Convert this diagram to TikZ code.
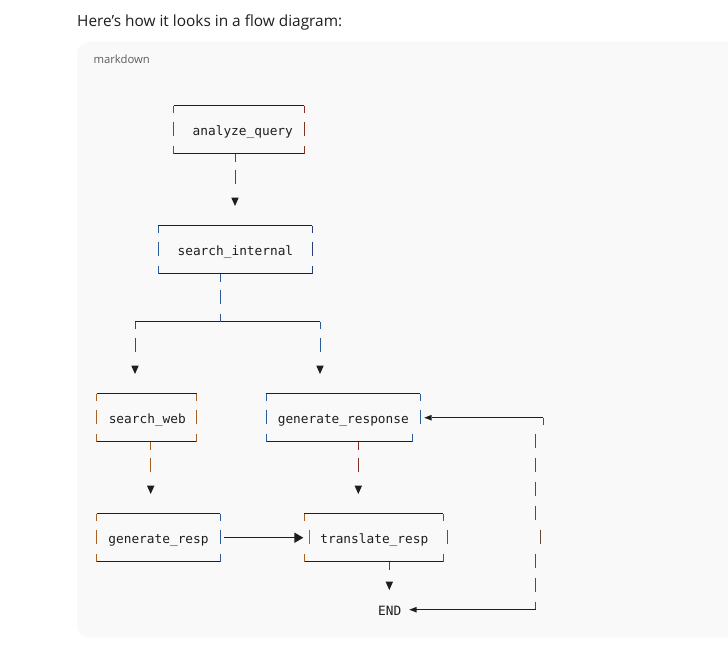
\documentclass[tikz,border=0pt]{standalone}
\usepackage{fontspec}
\setmainfont{Open Sans}
\newfontfamily\monof{DejaVu Sans Mono}
\definecolor{panelbg}{HTML}{F9F9F9}
\definecolor{mdgray}{HTML}{5D5D5D}
\definecolor{inkc}{HTML}{1E1E1E}
\definecolor{cblue}{HTML}{2A5C9A}
\definecolor{cnavy}{HTML}{2C3E7A}
\definecolor{cred}{HTML}{86301F}
\definecolor{corange}{HTML}{A8601E}
\definecolor{colive}{HTML}{54492C}
\definecolor{cbrown}{HTML}{66472C}
\tikzset{
  hl/.style={draw=inkc, line width=1pt},
  vl/.style={line width=1pt},
  tri/.style={fill=inkc},
  mono/.style={anchor=base, inner sep=0pt, text=inkc, font=\monof\fontsize{12.8}{15}\selectfont},
}
% box pieces: top line with downward corner ticks, bottom line with upward ticks
\newcommand{\btop}[5]{%
  \draw[hl] (#1,#3) -- (#2,#3);
  \draw[vl,#4] (#1,#3) -- ++(0,7);
  \draw[vl,#5] (#2,#3) -- ++(0,7);}
\newcommand{\bbot}[5]{%
  \draw[hl] (#1,#3) -- (#2,#3);
  \draw[vl,#4] (#1,#3) -- ++(0,-8);
  \draw[vl,#5] (#2,#3) -- ++(0,-8);}
\newcommand{\vseg}[3]{\draw[vl,#3] (#1,{#2-8}) -- (#1,{#2+6.5});}
\newcommand{\teedown}[3]{\draw[vl,#3] (#1,#2) -- (#1,{#2+8});}
\newcommand{\dtri}[2]{\fill[tri] ({#1-3.7},{#2-4}) -- ({#1+3.7},{#2-4}) -- (#1,{#2+4.3}) -- cycle;}
\newcommand{\ltri}[2]{\fill[tri] (#1,#2) -- ({#1+7.2},{#2-2.8}) -- ({#1+7.2},{#2+2.8}) -- cycle;}
\begin{document}
\begin{tikzpicture}[x=1pt,y=-1pt]
\useasboundingbox (0,0) rectangle (728,655);
\begin{scope}
\clip (0,0) rectangle (728,655);
\fill[panelbg, rounded corners=12pt] (77,42) rectangle (760,637.7);
\end{scope}
\node[anchor=base west, inner sep=0pt, text=inkc, font=\fontsize{15.4}{18}\selectfont] (head) at (77,26.7) {Here’s how it looks in a flow diagram:};
\node[anchor=base west, inner sep=0pt, text=mdgray, font=\fontsize{11.3}{14}\selectfont] (md) at (93.3,64) {markdown};

% ---- analyze_query
\node[mono] (aq) at (242.8,135.2) {analyze\_query};
\btop{173.7}{304.3}{105.7}{cblue}{cred}
\vseg{173.7}{129.7}{cblue} \vseg{304.3}{129.7}{cred}
\bbot{173.7}{304.3}{153.7}{cblue}{cred}
\teedown{235}{153.7}{colive}
\vseg{235}{177.7}{colive}
\dtri{235}{201.7}

% ---- search_internal
\node[mono] (si) at (235.4,255.2) {search\_internal};
\btop{158}{312}{225.7}{cblue}{cnavy}
\vseg{158}{249.7}{cblue} \vseg{312}{249.7}{cnavy}
\bbot{158}{312}{273.7}{cblue}{cnavy}
\teedown{220}{273.7}{cblue}
\vseg{220}{297.7}{cblue}
% branch
\draw[hl] (135,321.7) -- (320,321.7);
\draw[vl,cblue] (220,313.7) -- (220,321.7);
\draw[vl,colive] (135,321.7) -- ++(0,7);
\draw[vl,cblue] (320,321.7) -- ++(0,7);
\vseg{135}{345.7}{colive} \vseg{320}{345.7}{cblue}
\dtri{135}{369.7} \dtri{320}{369.7}

% ---- search_web
\node[mono] (sw) at (147.3,423.2) {search\_web};
\btop{96.7}{196.7}{393.7}{corange}{corange}
\vseg{96.7}{417.7}{corange} \vseg{196.7}{417.7}{corange}
\bbot{96.7}{196.7}{441.7}{corange}{corange}
\teedown{150.7}{441.7}{corange}
\vseg{150.7}{465.7}{corange}
\dtri{150.7}{489.7}

% ---- generate_response
\node[mono] (gr) at (343.3,423.2) {generate\_response};
\btop{266}{420}{393.7}{cblue}{cblue}
\vseg{266}{417.7}{cblue} \vseg{420}{417.7}{cblue}
\bbot{266}{412.3}{441.7}{cblue}{cblue}
\teedown{358.3}{441.7}{cred}
\vseg{358.3}{465.7}{cred}
\dtri{358.3}{489.7}

% ---- generate_resp
\node[mono] (gp) at (158.5,543.2) {generate\_resp};
\btop{96.7}{220}{513.7}{corange}{cblue}
\vseg{96.7}{537.7}{corange} \vseg{220}{537.7}{cblue}
\bbot{96.7}{220}{561.7}{corange}{cblue}

% ---- translate_resp
\node[mono] (tr) at (374.3,543.2) {translate\_resp};
\btop{304.3}{443.3}{513.7}{corange}{cblue}
\vseg{309.3}{537.7}{corange} \vseg{447.7}{537.7}{cblue}
\bbot{304.3}{443.3}{561.7}{corange}{cblue}
\teedown{389.3}{561.7}{colive}
\dtri{389.3}{585.7}

% generate_resp -> translate_resp
\coordinate (gpout) at (224,537.7);
\coordinate (trin) at (295,537.7);
\draw[hl] (gpout) -- (trin);
\fill[tri] (294.3,532.5) -- (303.3,537.7) -- (294.3,543) -- cycle;

% ---- END
\node[mono] (en) at (389.7,615.2) {END};

% loop END <- ... -> generate_response
\coordinate (grin) at (431.5,417.7);
\coordinate (ltop) at (543.3,417.7);
\draw[hl] (grin) -- (ltop);
\ltri{424.3}{417.7}
\draw[vl,cbrown] (ltop) -- ++(0,7);
\foreach \r in {441.7,465.7,489.7,513.7,561.7,585.7} {\vseg{535.7}{\r}{cbrown}}
\vseg{540}{537.7}{cbrown}
\coordinate (lbot) at (535.7,609.7);
\coordinate (enin) at (416,609.7);
\draw[vl,cbrown] (535.7,601.7) -- (lbot);
\draw[hl] (enin) -- (lbot);
\ltri{409.3}{609.7}
\end{tikzpicture}
\end{document}
